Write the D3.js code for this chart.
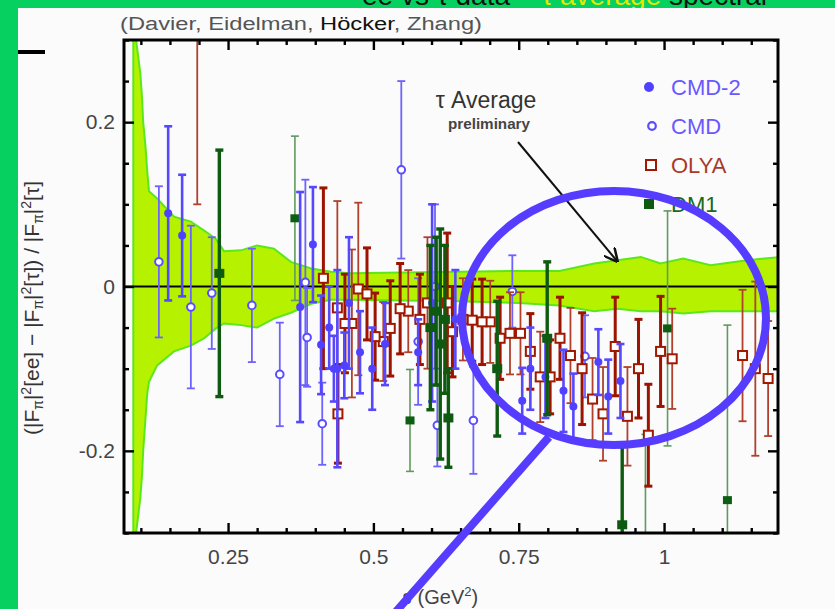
<!DOCTYPE html>
<html>
<head>
<meta charset="utf-8">
<script src="https://cdn.jsdelivr.net/npm/d3@7"></script>
<style>
  html, body { margin: 0; padding: 0; background: #05d060; }
  svg { display: block; font-family: "Liberation Sans", Arial, sans-serif; }
</style>
</head>
<body>
<svg id="chart" width="835" height="609"></svg>
<script>
// Tau-average uncertainty band: s (GeV^2), upper and lower relative deviation
const bandS  = [0.087, 0.090, 0.099, 0.102, 0.104, 0.108, 0.111, 0.114, 0.128, 0.157, 0.186, 0.209, 0.229, 0.243, 0.272, 0.300, 0.329, 0.358, 0.393, 0.427, 0.46, 0.55, 0.65, 0.75, 0.82, 0.88, 0.92, 0.96, 0.994, 1.033, 1.08, 1.143, 1.2];
const bandHi = [0.50, 0.31, 0.26, 0.23, 0.20, 0.17, 0.14, 0.116, 0.107, 0.085, 0.079, 0.068, 0.058, 0.043, 0.044, 0.050, 0.046, 0.030, 0.022, 0.018, 0.016, 0.017, 0.018, 0.019, 0.019, 0.028, 0.032, 0.036, 0.028, 0.034, 0.026, 0.032, 0.036];
const bandLo = [-0.50, -0.31, -0.258, -0.23, -0.20, -0.16, -0.13, -0.116, -0.096, -0.079, -0.072, -0.063, -0.051, -0.045, -0.047, -0.050, -0.039, -0.032, -0.021, -0.016, -0.016, -0.017, -0.018, -0.020, -0.023, -0.030, -0.027, -0.030, -0.030, -0.033, -0.030, -0.030, -0.030];

// Measurements: [s, relative deviation, error]
const cmd2 = [
  [0.147, 0.089, 0.106], [0.171, 0.062, 0.074], [0.374, -0.025, 0.140], [0.396, 0.051, 0.070],
  [0.410, -0.071, 0.060], [0.424, -0.050, 0.050], [0.432, -0.100, 0.040], [0.438, -0.100, 0.120],
  [0.450, -0.096, 0.040], [0.458, -0.020, 0.080], [0.477, -0.080, 0.050], [0.498, -0.100, 0.050],
  [0.520, -0.070, 0.050], [0.577, -0.080, 0.040], [0.601, -0.020, 0.120], [0.641, -0.040, 0.060],
  [0.756, -0.139, 0.040], [0.770, -0.100, 0.050], [0.796, -0.110, 0.050], [0.827, -0.127, 0.050],
  [0.844, -0.146, 0.040], [0.887, -0.092, 0.040], [0.904, -0.134, 0.045], [0.925, -0.115, 0.045]
];
const cmd = [
  [0.131, 0.030, 0.092], [0.186, -0.025, 0.099], [0.222, -0.008, 0.068], [0.291, -0.023, 0.069],
  [0.339, -0.107, 0.063], [0.383, 0.005, 0.125], [0.386, -0.062, 0.060], [0.412, -0.167, 0.050],
  [0.548, 0.142, 0.108], [0.577, -0.067, 0.077], [0.606, 0.000, 0.100], [0.610, -0.169, 0.050],
  [0.672, -0.163, 0.065], [0.739, -0.006, 0.044], [0.864, -0.085, 0.050]
];
const olyaA = [
  [0.414, 0.010, 0.110], [0.439, -0.155, 0.060], [0.451, -0.045, 0.060], [0.489, -0.009, 0.056],
  [0.503, -0.061, 0.053], [0.529, -0.051, 0.058], [0.546, -0.027, 0.055], [0.580, -0.040, 0.055],
  [0.627, -0.020, 0.085], [0.636, -0.055, 0.055], [0.670, -0.041, 0.050], [0.687, -0.043, 0.052],
  [0.718, -0.063, 0.050], [0.770, -0.079, 0.046], [0.804, -0.110, 0.045], [0.821, -0.063, 0.050],
  [0.859, -0.100, 0.068], [0.916, -0.073, 0.060], [0.956, -0.100, 0.060], [0.973, -0.181, 0.062],
  [0.994, -0.079, 0.067]
];
const olyaB = [
  [0.197, 0.360, 0.260], [0.438, -0.026, 0.130], [0.463, -0.045, 0.090], [0.474, -0.003, 0.105],
  [0.517, -0.067, 0.048], [0.560, -0.030, 0.050], [0.593, -0.020, 0.080], [0.654, -0.040, 0.050],
  [0.701, -0.043, 0.050], [0.735, -0.057, 0.050], [0.753, -0.057, 0.050], [0.787, -0.110, 0.055],
  [0.839, -0.084, 0.058], [0.877, -0.137, 0.050], [0.895, -0.155, 0.057], [0.937, -0.158, 0.060],
  [1.014, -0.088, 0.061], [1.135, -0.084, 0.080], [1.157, -0.100, 0.106], [1.179, -0.112, 0.070]
];
const dm1A = [
  [0.235, 0.016, 0.150], [0.598, -0.050, 0.100], [0.608, -0.030, 0.090], [0.615, -0.070, 0.140],
  [0.623, -0.040, 0.090], [0.629, -0.160, 0.060], [0.713, -0.100, 0.082], [0.799, -0.063, 0.093],
  [0.928, -0.290, 0.095]
];
const dm1B = [
  [0.365, 0.083, 0.100], [0.563, -0.163, 0.062], [0.968, -0.370, 0.190], [1.006, -0.051, 0.143],
  [1.109, -0.260, 0.213]
];

const xMajor = [0.25, 0.5, 0.75, 1];
const xLabels = ["0.25", "0.5", "0.75", "1"];
const yMajor = [-0.2, 0, 0.2];
const yLabels = ["-0.2", "0", "0.2"];
const legendNames = ["CMD-2", "CMD", "OLYA", "DM1"];

const svg = d3.select("#chart");
const W = 835, H = 609;
const M = { left: 124, right: 778, top: 40, bottom: 533 };

const x = d3.scaleLinear().domain([0.071, 1.196]).range([M.left, M.right]);
const y = d3.scaleLinear().domain([-0.3, 0.3]).range([M.bottom, M.top]);

// slide background
svg.append("rect").attr("width", W).attr("height", H).attr("fill", "#05d060");

// slide heading, running above the top of the view
const head = svg.append("text").attr("x", 362).attr("y", 5).attr("font-size", 28);
head.append("tspan").attr("fill", "#111").text("ee vs τ data ");
head.append("tspan").attr("fill", "#111").text("– ");
head.append("tspan").attr("fill", "#e6e600").text("τ average ");
head.append("tspan").attr("fill", "#111").text("spectral");

// white panel
svg.append("rect").attr("x", 18).attr("y", 8).attr("width", W - 18).attr("height", H - 8).attr("fill", "#fbfbfb");

// bullet dash
svg.append("rect").attr("x", 18).attr("y", 50).attr("width", 27).attr("height", 4).attr("fill", "#000");

// authors
const auth = svg.append("text").attr("x", 120).attr("y", 30).attr("font-size", 18)
  .attr("textLength", 362).attr("lengthAdjust", "spacingAndGlyphs").attr("fill", "#555");
auth.append("tspan").text("(Davier, Eidelman, ");
auth.append("tspan").attr("fill", "#111").text("Höcker");
auth.append("tspan").text(", Zhang)");

// clip for plot area
svg.append("defs").append("clipPath").attr("id", "plotClip")
  .append("rect").attr("x", M.left).attr("y", M.top)
  .attr("width", M.right - M.left).attr("height", M.bottom - M.top);

const plot = svg.append("g").attr("clip-path", "url(#plotClip)");

// band
const bandData = bandS.map((s, i) => ({ s, hi: bandHi[i], lo: bandLo[i] }));
plot.append("path").datum(bandData)
  .attr("d", d3.area().x(d => x(d.s)).y0(d => y(d.lo)).y1(d => y(d.hi)))
  .attr("fill", "#b6f200").attr("stroke", "#5ae81a").attr("stroke-width", 2);

// zero line
plot.append("line").attr("x1", M.left).attr("x2", M.right)
  .attr("y1", y(0)).attr("y2", y(0)).attr("stroke", "#000").attr("stroke-width", 2.2);

function errorBars(data, color, width, cap) {
  const g = plot.append("g").attr("stroke", color).attr("stroke-width", width);
  data.forEach(([s, v, e]) => {
    g.append("line").attr("x1", x(s)).attr("x2", x(s)).attr("y1", y(v - e)).attr("y2", y(v + e));
    g.append("line").attr("x1", x(s) - cap).attr("x2", x(s) + cap).attr("y1", y(v + e)).attr("y2", y(v + e));
    g.append("line").attr("x1", x(s) - cap).attr("x2", x(s) + cap).attr("y1", y(v - e)).attr("y2", y(v - e));
  });
  return g;
}

// thin DM1
errorBars(dm1B, "#5f9a5f", 1.6, 4);
plot.append("g").selectAll("rect").data(dm1B).join("rect")
  .attr("x", d => x(d[0]) - 4.5).attr("y", d => y(d[1]) - 4).attr("width", 9).attr("height", 8)
  .attr("fill", "#0d5e12");

// CMD (open circles)
errorBars(cmd, "#6e62ff", 1.8, 4);
plot.append("g").selectAll("circle").data(cmd).join("circle")
  .attr("cx", d => x(d[0])).attr("cy", d => y(d[1])).attr("r", 3.8)
  .attr("fill", "#fff").attr("stroke", "#5a4cff").attr("stroke-width", 2);

// OLYA (open squares)
errorBars(olyaB, "#b0402c", 1.8, 4);
errorBars(olyaA, "#9c1400", 3, 4);
plot.append("g").selectAll("rect").data(olyaB.concat(olyaA)).join("rect")
  .attr("x", d => x(d[0]) - 4.5).attr("y", d => y(d[1]) - 4.5).attr("width", 9).attr("height", 9)
  .attr("fill", "#fff").attr("stroke", "#a01800").attr("stroke-width", 2);

// CMD-2 (filled circles)
errorBars(cmd2, "#5648ff", 2.6, 4);
plot.append("g").selectAll("circle").data(cmd2).join("circle")
  .attr("cx", d => x(d[0])).attr("cy", d => y(d[1])).attr("r", 4)
  .attr("fill", "#5040ff");

// thick DM1
errorBars(dm1A, "#0d5a10", 3.4, 4);
plot.append("g").selectAll("rect").data(dm1A).join("rect")
  .attr("x", d => x(d[0]) - 5).attr("y", d => y(d[1]) - 4.5).attr("width", 10).attr("height", 9)
  .attr("fill", "#0d5a10");

// axes: inward ticks, minor every 0.05
const xMinor = d3.range(0.1, 1.2, 0.05).map(v => +v.toFixed(2)).filter(v => !xMajor.some(m => Math.abs(m - v) < 1e-6));
const yMinor = d3.range(-0.3, 0.31, 0.05).map(v => +v.toFixed(2)).filter(v => !yMajor.some(m => Math.abs(m - v) < 1e-6));

const axes = svg.append("g").attr("font-family", "Liberation Sans, Arial, sans-serif");

function styleAxis(g) {
  g.select(".domain").remove();
  g.selectAll(".tick line").attr("stroke", "#000").attr("stroke-width", 2.4);
  g.selectAll(".tick text").attr("fill", "#444").attr("font-size", 21);
}

axes.append("g").attr("transform", `translate(0,${M.bottom})`)
  .call(d3.axisBottom(x).tickValues(xMinor).tickSize(-5).tickFormat("")).call(styleAxis);
axes.append("g").attr("transform", `translate(0,${M.bottom})`)
  .call(d3.axisBottom(x).tickValues(xMajor).tickSize(-10).tickPadding(16)
    .tickFormat((d, i) => xLabels[i])).call(styleAxis);
axes.append("g").attr("transform", `translate(0,${M.top})`)
  .call(d3.axisTop(x).tickValues(xMinor).tickSize(-5).tickFormat("")).call(styleAxis);
axes.append("g").attr("transform", `translate(0,${M.top})`)
  .call(d3.axisTop(x).tickValues(xMajor).tickSize(-10).tickFormat("")).call(styleAxis);

axes.append("g").attr("transform", `translate(${M.left},0)`)
  .call(d3.axisLeft(y).tickValues(yMinor).tickSize(-5).tickFormat("")).call(styleAxis);
axes.append("g").attr("transform", `translate(${M.left},0)`)
  .call(d3.axisLeft(y).tickValues(yMajor).tickSize(-10).tickPadding(9)
    .tickFormat((d, i) => yLabels[i])).call(styleAxis);
axes.append("g").attr("transform", `translate(${M.right},0)`)
  .call(d3.axisRight(y).tickValues(yMinor).tickSize(-5).tickFormat("")).call(styleAxis);
axes.append("g").attr("transform", `translate(${M.right},0)`)
  .call(d3.axisRight(y).tickValues(yMajor).tickSize(-10).tickFormat("")).call(styleAxis);

// frame
svg.append("rect").attr("x", M.left).attr("y", M.top)
  .attr("width", M.right - M.left).attr("height", M.bottom - M.top)
  .attr("fill", "none").attr("stroke", "#000").attr("stroke-width", 3);

// axis titles
const xt = svg.append("text").attr("x", 402).attr("y", 604).attr("font-size", 20).attr("fill", "#444");
xt.append("tspan").attr("font-style", "italic").text("s");
xt.append("tspan").text(" (GeV");
xt.append("tspan").attr("font-size", 13).attr("dy", -8).text("2");
xt.append("tspan").attr("dy", 8).text(")");

const yt = svg.append("text").attr("transform", "translate(39,308) rotate(-90)")
  .attr("font-size", 21).attr("fill", "#333");
function fpi(t, first) {
  t.append("tspan").text(first);
  t.append("tspan").attr("font-size", 14).attr("dy", 4).text("π");
  t.append("tspan").attr("dy", -4).text("|");
  t.append("tspan").attr("font-size", 14).attr("dy", -8).text("2");
}
fpi(yt, "(|F");
yt.append("tspan").attr("dy", 8).text("[ee] − ");
fpi(yt, "|F");
yt.append("tspan").attr("dy", 8).text("[τ]) / ");
fpi(yt, "|F");
yt.append("tspan").attr("dy", 8).text("[τ]");
// center the rotated label on its own measured length
const ytLen = yt.node().getComputedTextLength();
yt.attr("x", -ytLen / 2);

// legend
const legY = [87, 126, 165, 204];
const legCol = ["#6a58ff", "#6a58ff", "#a83a28", "#1a6a1a"];
const leg = svg.append("g");
legendNames.forEach((name, i) => {
  leg.append("text").attr("x", 671).attr("y", legY[i]).attr("dy", "0.36em")
    .attr("font-size", 22).attr("fill", legCol[i]).text(name);
});
leg.append("circle").attr("cx", 649).attr("cy", legY[0]).attr("r", 5).attr("fill", "#5040ff");
leg.append("circle").attr("cx", 652).attr("cy", legY[1]).attr("r", 3.8).attr("fill", "#fff")
  .attr("stroke", "#5a4cff").attr("stroke-width", 2.2);
leg.append("rect").attr("x", 646).attr("y", legY[2] - 5).attr("width", 10).attr("height", 10)
  .attr("fill", "#fff").attr("stroke", "#a01800").attr("stroke-width", 2);
leg.append("rect").attr("x", 644).attr("y", legY[3] - 5).attr("width", 10).attr("height", 10)
  .attr("fill", "#0d5a10");

// annotation for the tau average band
svg.append("text").attr("x", 486).attr("y", 108).attr("text-anchor", "middle")
  .attr("font-size", 23).attr("fill", "#333").text("τ Average");
svg.append("text").attr("x", 489).attr("y", 129).attr("text-anchor", "middle")
  .attr("font-size", 14).attr("font-weight", "bold").attr("fill", "#444")
  .attr("textLength", 82).attr("lengthAdjust", "spacingAndGlyphs").text("preliminary");
svg.append("defs").append("marker").attr("id", "arrowHead")
  .attr("viewBox", "0 0 10 10").attr("refX", 9).attr("refY", 5)
  .attr("markerWidth", 7).attr("markerHeight", 7).attr("orient", "auto")
  .append("path").attr("d", "M0,0 L10,5 L0,10").attr("fill", "none").attr("stroke", "#111").attr("stroke-width", 1.8);
svg.append("line").attr("x1", 518).attr("y1", 142).attr("x2", 617).attr("y2", 261)
  .attr("stroke", "#111").attr("stroke-width", 2).attr("marker-end", "url(#arrowHead)");

// highlight ellipse and pointer
svg.append("ellipse").attr("cx", 614).attr("cy", 318).attr("rx", 152).attr("ry", 127)
  .attr("fill", "none").attr("stroke", "#553cff").attr("stroke-width", 8);
svg.append("line").attr("x1", 549).attr("y1", 437).attr("x2", 393).attr("y2", 615)
  .attr("stroke", "#553cff").attr("stroke-width", 8);
</script>
</body>
</html>
